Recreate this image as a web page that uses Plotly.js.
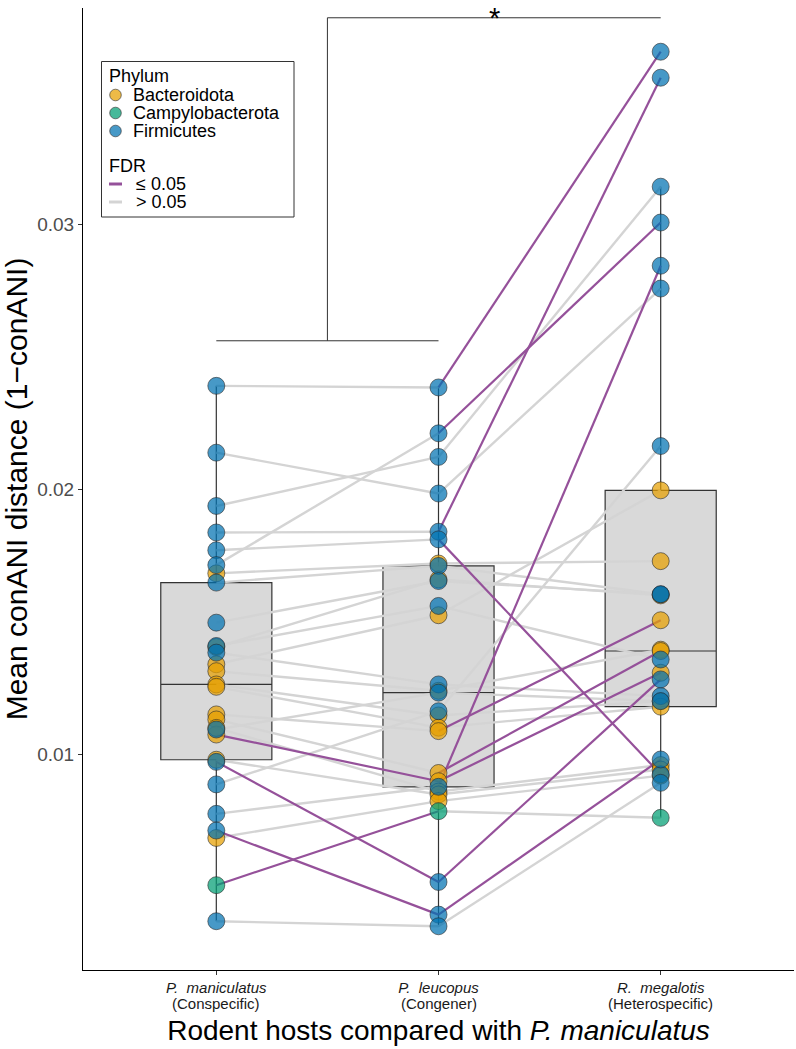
<!DOCTYPE html>
<html>
<head>
<meta charset="utf-8">
<script src="https://cdn.plot.ly/plotly-3.0.1.min.js"></script>
<style>html,body{margin:0;padding:0;background:#fff;}#chart{width:796px;height:1049px;}</style>
</head>
<body>
<div id="chart"></div>
<script>
// ---- data ----
const hostNames = ['<i>P.  maniculatus</i>', '<i>P.  leucopus</i>', '<i>R.  megalotis</i>'];
const hostRelations = ['(Conspecific)', '(Congener)', '(Heterospecific)'];
const phylumNames = ['Bacteroidota', 'Campylobacterota', 'Firmicutes'];
const fdrNames = ['\u2264 0.05', '> 0.05'];
const phylum = [
  'Firmicutes','Firmicutes','Firmicutes','Firmicutes','Firmicutes','Firmicutes','Firmicutes','Firmicutes',
  'Firmicutes','Firmicutes','Firmicutes','Firmicutes','Firmicutes','Firmicutes','Firmicutes','Firmicutes',
  'Bacteroidota','Bacteroidota','Bacteroidota','Bacteroidota','Bacteroidota','Bacteroidota',
  'Bacteroidota','Bacteroidota','Bacteroidota','Bacteroidota','Bacteroidota','Bacteroidota',
  'Campylobacterota'
];
// mean conANI distance per genome, for each host
const pManiculatus = [0.0239,0.02138,0.01937,0.01837,0.0177,0.01714,0.01648,0.01497,0.01409,0.01384,0.01094,0.00972,0.00887,0.00776,0.00713,0.00371,
  0.01683,0.01405,0.0134,0.01314,0.01264,0.01255,0.01151,0.01132,0.01075,0.011,0.0098,0.00685,0.00507];
const pLeucopus = [0.02384,0.01984,0.02122,0.0184,0.01811,0.02211,0.01711,0.01654,0.0156,0.01264,0.01233,0.00519,0.01163,0.00878,0.00396,0.00352,
  0.0172,0.0166,0.01525,0.0124,0.01147,0.01101,0.01088,0.0093,0.00899,0.0086,0.00849,0.00824,0.00786];
const rMegalotis = [0.0365,0.02757,0.03141,0.03552,0.00925,0.03006,0.01604,0.01604,0.01358,0.0122,0.01201,0.01283,0.02163,0.02843,0.00981,0.00893,
  0.01729,0.016,0.01996,0.01395,0.01201,0.0118,0.01506,0.0139,0.01308,0.0096,0.00943,0.0092,0.00761];
// FDR <= 0.05 for each segment
const sigManLeu = [0,0,0,0,0,0,0,0,0,0,0,1,0,0,1,0, 0,0,0,0,0,0,0,0,1,0,0,0,1];
const sigLeuMeg = [1,0,0,1,1,1,0,0,0,0,0,1,0,1,1,0, 0,0,0,0,0,0,1,1,1,0,0,0,0];
// significance bracket
const bracketLow = 0.0256, bracketHigh = 0.03778, sigLabel = '*';

const phylumColors = {Bacteroidota:'rgba(230,159,0,0.72)', Campylobacterota:'rgba(0,158,115,0.72)', Firmicutes:'rgba(0,114,178,0.72)'};
const fdrColors = {sig:'#95519a', ns:'#d4d4d4'};
const hostValues = [pManiculatus, pLeucopus, rMegalotis];
const sigs = [sigManLeu, sigLeuMeg];

const W = 796, H = 1049, M = {l:83, r:2, t:8, b:79};
const PW = W - M.l - M.r, PH = H - M.t - M.b;
const px = x => (x - M.l) / PW, py = y => (H - M.b - y) / PH;

const traces = [];
// boxplots
const bx = [], by = [];
hostValues.forEach((vals, k) => vals.forEach(v => { bx.push(k); by.push(v); }));
traces.push({
  type:'box', x:bx, y:by, width:0.5, quartilemethod:'inclusive',
  boxpoints:'outliers', marker:{opacity:0, size:1},
  fillcolor:'#d9d9d9', line:{color:'#333333', width:1.2}, whiskerwidth:0,
  hoverinfo:'skip', showlegend:false
});
// connecting lines
function segTrace(flag, color, width) {
  const x = [], y = [];
  for (let s = 0; s < 2; s++) {
    for (let i = 0; i < pManiculatus.length; i++) {
      if (sigs[s][i] === flag) {
        x.push(s, s + 1, null);
        y.push(hostValues[s][i], hostValues[s + 1][i], null);
      }
    }
  }
  return {type:'scatter', mode:'lines', x, y, line:{color, width}, hoverinfo:'skip', showlegend:false};
}
traces.push(segTrace(0, fdrColors.ns, 2.4));
traces.push(segTrace(1, fdrColors.sig, 2.2));
// points
phylumNames.forEach(p => {
  const x = [], y = [];
  for (let i = 0; i < phylum.length; i++) {
    if (phylum[i] !== p) continue;
    for (let k = 0; k < 3; k++) { x.push(k); y.push(hostValues[k][i]); }
  }
  traces.push({type:'scatter', mode:'markers', x, y, name:p, showlegend:false,
    marker:{size:17, color:phylumColors[p], line:{color:'rgba(40,40,40,0.85)', width:0.7}},
    hoverinfo:'skip'});
});

const all = pManiculatus.concat(pLeucopus, rMegalotis);
const ymin = Math.min(...all), ymax = Math.max(...all), pad = (ymax - ymin) * 0.05;

// legend (two titled groups in one framed box)
const legFont = {size:18, color:'#000'};
const shapes = [
  {type:'line', xref:'x', yref:'y', x0:0, x1:1, y0:bracketLow, y1:bracketLow, line:{color:'#333', width:1}},
  {type:'line', xref:'x', yref:'y', x0:0.5, x1:0.5, y0:bracketLow, y1:bracketHigh, line:{color:'#333', width:1}},
  {type:'line', xref:'x', yref:'y', x0:0.5, x1:2, y0:bracketHigh, y1:bracketHigh, line:{color:'#333', width:1}},
  {type:'rect', xref:'paper', yref:'paper', x0:px(101.5), x1:px(294), y0:py(61.5), y1:py(217), line:{color:'#333', width:1}, fillcolor:'#fff', layer:'above'}
];
const annotations = [
  {xref:'x', yref:'paper', x:1.25, y:py(0.5), text:sigLabel, showarrow:false, yanchor:'top',
   font:{size:29, color:'#000'}},
  {xref:'paper', yref:'paper', x:px(107), y:py(76), text:'Phylum', showarrow:false, xanchor:'left', yanchor:'middle', font:legFont},
  {xref:'paper', yref:'paper', x:px(107), y:py(166), text:'FDR', showarrow:false, xanchor:'left', yanchor:'middle', font:legFont}
];
phylumNames.forEach((p, j) => {
  const cy = 95 + j * 18;
  shapes.push({type:'circle', xref:'paper', yref:'paper', xsizemode:'pixel', ysizemode:'pixel',
    xanchor:px(115.5), yanchor:py(cy), x0:-5.8, x1:5.8, y0:-5.8, y1:5.8,
    fillcolor:phylumColors[p], line:{color:'rgba(40,40,40,0.85)', width:0.7}, layer:'above'});
  annotations.push({xref:'paper', yref:'paper', x:px(131), y:py(cy), text:p, showarrow:false, xanchor:'left', yanchor:'middle', font:legFont});
});
fdrNames.forEach((f, j) => {
  const cy = 184 + j * 18;
  shapes.push({type:'line', xref:'paper', yref:'paper', x0:px(109), x1:px(122), y0:py(cy), y1:py(cy),
    line:{color: j === 0 ? fdrColors.sig : fdrColors.ns, width:3}, layer:'above'});
  annotations.push({xref:'paper', yref:'paper', x:px(134), y:py(cy), text:f, showarrow:false, xanchor:'left', yanchor:'middle', font:legFont});
});
// second line of the category labels (tight line spacing as in the original)
hostRelations.forEach((r, k) => {
  annotations.push({xref:'x', yref:'paper', x:k, y:py(1003), text:r, showarrow:false, yanchor:'middle',
    font:{size:15, color:'#1a1a1a'}});
});

const layout = {
  width:W, height:H, margin:M,
  paper_bgcolor:'#fff', plot_bgcolor:'#fff',
  font:{family:'Liberation Sans, Arial, sans-serif', color:'#000'},
  showlegend:false,
  xaxis:{range:[-0.6, 2.6], tickvals:[0,1,2], ticktext:hostNames,
    showline:true, linecolor:'#000', linewidth:1, showgrid:false, zeroline:false,
    ticks:'outside', ticklen:4, tickcolor:'#333', tickfont:{size:15, color:'#1a1a1a'}, ticklabelstandoff:0,
    title:{text:'Rodent hosts compared with <i>P. maniculatus</i>', font:{size:28, color:'#000'}, standoff:25}},
  yaxis:{range:[ymin - pad, ymax + pad], tickvals:[0.01,0.02,0.03], ticktext:['0.01','0.02','0.03'],
    showline:true, linecolor:'#000', linewidth:1, showgrid:false, zeroline:false,
    ticks:'outside', ticklen:4, tickcolor:'#333', tickfont:{size:19, color:'#4d4d4d'},
    title:{text:'Mean conANI distance (1\u2212conANI)', font:{size:30, color:'#000'}, standoff:5}},
  shapes, annotations
};

Plotly.newPlot('chart', traces, layout, {staticPlot:true, displayModeBar:false});
</script>
</body>
</html>
